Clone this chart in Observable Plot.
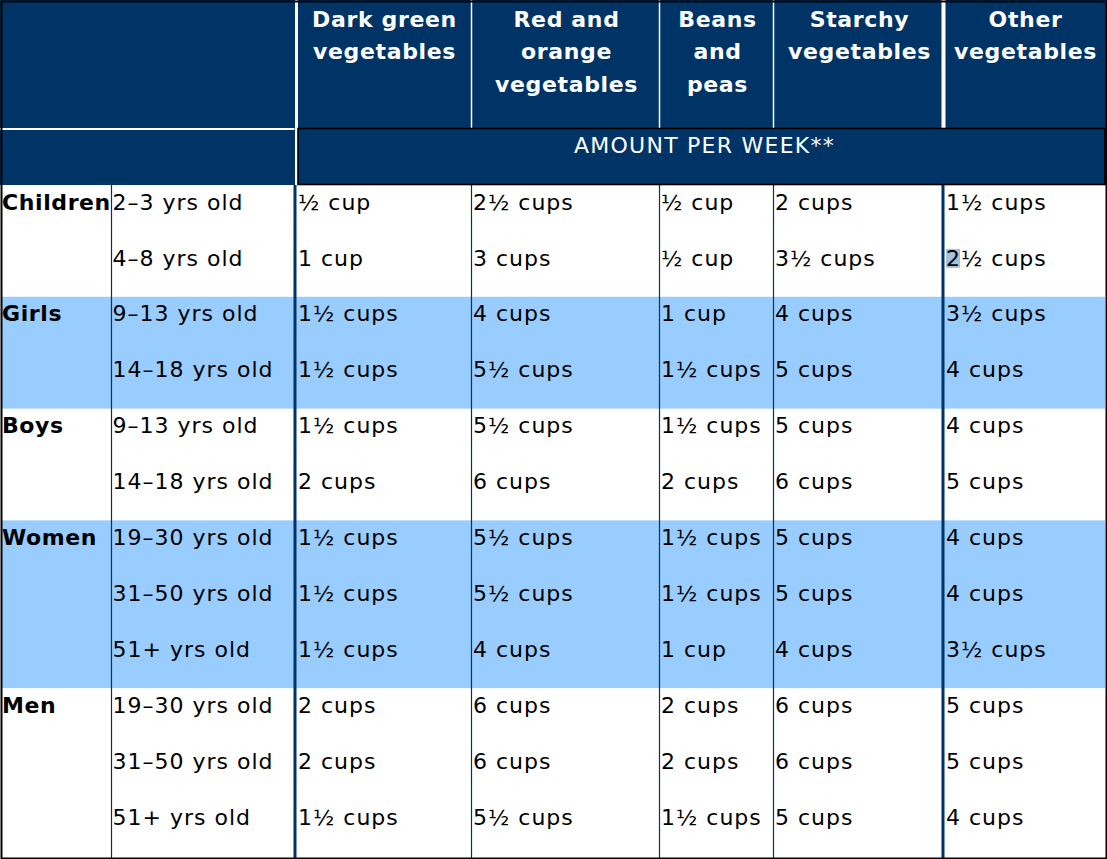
<!DOCTYPE html>
<html>
<head>
<meta charset="utf-8">
<script src="https://cdn.jsdelivr.net/npm/d3@7"></script>
<script src="https://cdn.jsdelivr.net/npm/@observablehq/plot@0.6"></script>
<style>
  html, body { margin: 0; padding: 0; background: #ffffff; }
  svg { display: block; }
  #chart svg text { letter-spacing: 1px; }
  #chart svg g.hdr text { letter-spacing: 0.65px; }
  #chart svg g.grp text { letter-spacing: 0.6px; }
  #chart svg g.sub text { letter-spacing: 1.25px; }
</style>
</head>
<body>
<div id="chart"></div>
<script>
// ---- DATA ----
const groupNames = ["Children", "Girls", "Boys", "Women", "Men"];
const rowGroups = ["Children","Children","Girls","Girls","Boys","Boys","Women","Women","Women","Men","Men","Men"];
const ageLabels = ["2–3 yrs old","4–8 yrs old","9–13 yrs old","14–18 yrs old","9–13 yrs old","14–18 yrs old","19–30 yrs old","31–50 yrs old","51+ yrs old","19–30 yrs old","31–50 yrs old","51+ yrs old"];
const categories = ["Dark green\nvegetables", "Red and\norange\nvegetables", "Beans\nand\npeas", "Starchy\nvegetables", "Other\nvegetables"];
const subHeader = "AMOUNT PER WEEK**";
const darkGreen = [0.5, 1, 1.5, 1.5, 1.5, 2, 1.5, 1.5, 1.5, 2, 2, 1.5];
const redOrange = [2.5, 3, 4, 5.5, 5.5, 6, 5.5, 5.5, 4, 6, 6, 5.5];
const beansPeas = [0.5, 0.5, 1, 1.5, 1.5, 2, 1.5, 1.5, 1, 2, 2, 1.5];
const starchy = [2, 3.5, 4, 5, 5, 6, 5, 5, 4, 6, 6, 5];
const otherVeg = [1.5, 2.5, 3.5, 4, 4, 5, 4, 4, 3.5, 5, 5, 4];
const series = [darkGreen, redOrange, beansPeas, starchy, otherVeg];
// a selected (highlighted) character in the source: [column index, row index]
const selectedCell = [4, 1];

// ---- LAYOUT (table geometry) ----
const W = 1107, H = 859;
const colEdges = [2, 111, 295, 471, 659, 773, 943, 1105];
const thickCols = new Set([2, 6]);
const headBottom = 128.5, subBottom = 185, rowH = 55.9;
const navy = "#003366", band = "#99ccff", selColor = "#a3c2dc";
const font = "DejaVu Sans";

function cups(v) {
  const whole = Math.floor(v), half = v - whole >= 0.5;
  const num = (whole > 0 ? String(whole) : "") + (half ? "½" : "");
  return num + (v > 1 ? " cups" : " cup");
}
const rowTop = i => subBottom + i * rowH;
const textTop = i => rowTop(i) + 8.5;
const cellX = c => colEdges[c] + (thickCols.has(c) ? 2.5 : 1.5);

// group spans
const groupSpans = groupNames.map((g, gi) => {
  const first = rowGroups.indexOf(g), last = rowGroups.lastIndexOf(g);
  return {group: g, gi, first, last, y1: rowTop(first), y2: rowTop(last + 1)};
});

// cells
const cells = [];
series.forEach((vals, c) => vals.forEach((v, r) => {
  cells.push({x: cellX(c + 2), y: textTop(r), text: cups(v)});
}));
const ageCells = ageLabels.map((a, r) => ({x: colEdges[1] + 1, y: textTop(r), text: a}));
const groupCells = groupSpans.map(s => ({x: colEdges[0] - 0.5, y: textTop(s.first), text: s.group}));
const headerCells = categories.map((c, i) => ({x: (colEdges[i + 2] + colEdges[i + 3]) / 2 + 1, y: 3.5, text: c}));
const sel = [{x1: cellX(selectedCell[0] + 2) + 0.5, x2: cellX(selectedCell[0] + 2) + 14.5,
              y1: rowTop(selectedCell[1]) + 8, y2: rowTop(selectedCell[1]) + 27}];

const thinEdges = [colEdges[1], colEdges[3], colEdges[4], colEdges[5]];
const thickEdges = [colEdges[2], colEdges[6]];

const chart = Plot.plot({
  width: W, height: H, margin: 0,
  x: {type: "linear", domain: [0, W], range: [0, W], axis: null},
  y: {type: "linear", domain: [0, H], range: [0, H], axis: null},
  style: {background: "white", fontFamily: font},
  marks: [
    // header background
    Plot.rect([0], {x1: 0, x2: W, y1: 0, y2: subBottom, fill: navy}),
    // shaded groups
    Plot.rect(groupSpans.filter(s => s.gi % 2 === 1), {x1: colEdges[0], x2: colEdges[7], y1: "y1", y2: "y2", fill: band}),
    // selection highlight
    Plot.rect(sel, {x1: "x1", x2: "x2", y1: "y1", y2: "y2", fill: selColor}),
    // data-area vertical rules
    Plot.ruleX(thinEdges, {x: d => d, y1: subBottom, y2: H, stroke: navy, strokeWidth: 1.2}),
    Plot.ruleX(thickEdges, {x: d => d - 0.5, y1: subBottom, y2: H, stroke: navy, strokeWidth: 3}),
    // header separators
    Plot.ruleX([colEdges[3], colEdges[4], colEdges[5]], {x: d => d, y1: 0, y2: headBottom, stroke: "white", strokeWidth: 1.5}),
    Plot.ruleX([colEdges[6]], {x: d => d, y1: 0, y2: headBottom, stroke: "white", strokeWidth: 4}),
    Plot.ruleX([colEdges[2]], {x: d => d + 1, y1: 0, y2: subBottom, stroke: "white", strokeWidth: 3}),
    Plot.ruleY([headBottom], {x1: 0, x2: colEdges[2] - 0.5, y: d => d, stroke: "white", strokeWidth: 2}),
    // sub-header box
    Plot.rect([0], {x1: colEdges[2] + 3, x2: colEdges[7], y1: headBottom, y2: subBottom - 0.5, fill: "none", stroke: "black", strokeWidth: 1.6}),
    // header text
    Plot.text(headerCells, {x: "x", y: "y", text: "text", lineAnchor: "top", textAnchor: "middle", fill: "white", fontWeight: "bold", fontSize: 22, lineHeight: 1.47, className: "hdr"}),
    Plot.text([subHeader], {x: (colEdges[2] + colEdges[7]) / 2 + 4, y: 137, text: d => d, lineAnchor: "top", textAnchor: "middle", fill: "white", fontSize: 22, className: "sub"}),
    // row labels
    Plot.text(groupCells, {x: "x", y: "y", text: "text", lineAnchor: "top", textAnchor: "start", fill: "black", fontWeight: "bold", fontSize: 22, className: "grp"}),
    Plot.text(ageCells, {x: "x", y: "y", text: "text", lineAnchor: "top", textAnchor: "start", fill: "black", fontSize: 22}),
    // values
    Plot.text(cells, {x: "x", y: "y", text: "text", lineAnchor: "top", textAnchor: "start", fill: "black", fontSize: 22}),
    // outer border
    Plot.frame({stroke: "black", strokeWidth: 2, inset: 1})
  ]
});
document.getElementById("chart").appendChild(chart);
</script>
</body>
</html>
